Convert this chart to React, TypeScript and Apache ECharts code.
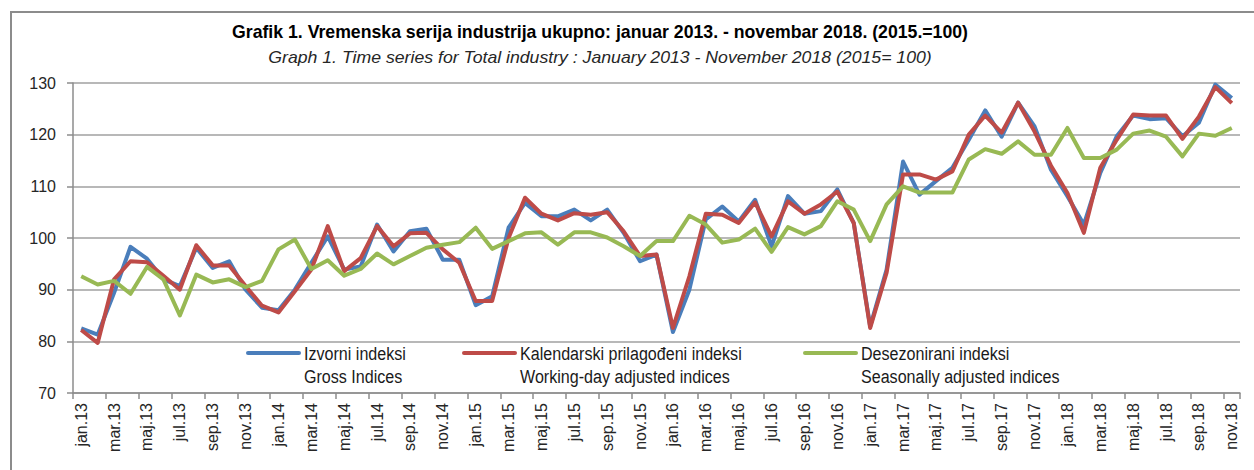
import React, { useEffect, useRef } from "react";
import * as echarts from "echarts";

const categories: string[] = [
  "jan.13","feb.13","mar.13","apr.13","maj.13","jun.13","jul.13","avg.13","sep.13","okt.13","nov.13","dec.13",
  "jan.14","feb.14","mar.14","apr.14","maj.14","jun.14","jul.14","avg.14","sep.14","okt.14","nov.14","dec.14",
  "jan.15","feb.15","mar.15","apr.15","maj.15","jun.15","jul.15","avg.15","sep.15","okt.15","nov.15","dec.15",
  "jan.16","feb.16","mar.16","apr.16","maj.16","jun.16","jul.16","avg.16","sep.16","okt.16","nov.16","dec.16",
  "jan.17","feb.17","mar.17","apr.17","maj.17","jun.17","jul.17","avg.17","sep.17","okt.17","nov.17","dec.17",
  "jan.18","feb.18","mar.18","apr.18","maj.18","jun.18","jul.18","avg.18","sep.18","okt.18","nov.18",
];

const grossIndices: number[] = [
  82.5, 81.3, 89.4, 98.3, 96.0, 92.0, 90.7, 98.1, 94.2, 95.5, 90.0, 86.5,
  86.0, 90.0, 95.2, 100.3, 93.9, 94.5, 102.6, 97.4, 101.3, 101.8, 95.8, 95.8,
  87.0, 88.7, 102.0, 106.8, 104.2, 104.2, 105.5, 103.4, 105.5, 101.0, 95.5, 96.8,
  81.8, 90.0, 103.6, 106.1, 103.2, 107.4, 98.4, 108.1, 104.7, 105.2, 109.4, 102.9,
  82.9, 93.9, 114.8, 108.4, 111.0, 113.6, 119.0, 124.7, 119.6, 126.2, 121.6, 113.2,
  108.1, 102.6, 112.6, 119.7, 123.7, 123.0, 123.2, 119.7, 122.3, 129.7, 127.1,
];

const workingDayAdjusted: number[] = [
  82.2, 79.7, 92.0, 95.5, 95.3, 92.7, 90.0, 98.6, 94.7, 94.7, 90.7, 86.9,
  85.6, 89.7, 93.9, 102.3, 93.6, 96.1, 102.3, 98.4, 100.9, 101.0, 97.8, 95.2,
  87.8, 87.8, 100.0, 107.8, 104.7, 103.4, 104.8, 104.5, 105.0, 101.3, 96.5, 96.8,
  82.6, 92.6, 104.7, 104.5, 102.9, 106.9, 100.3, 107.1, 104.7, 106.5, 109.0, 102.9,
  82.6, 93.3, 112.3, 112.3, 111.3, 112.9, 120.0, 123.7, 120.4, 126.2, 120.6, 114.0,
  108.7, 101.0, 113.6, 119.0, 123.9, 123.7, 123.7, 119.2, 123.5, 129.2, 126.1,
];

const seasonallyAdjusted: number[] = [
  92.6, 91.0, 91.7, 89.2, 94.4, 92.0, 85.0, 92.9, 91.4, 92.0, 90.5, 91.7,
  97.8, 99.7, 94.0, 95.7, 92.7, 94.0, 97.0, 94.9, 96.5, 98.1, 98.7, 99.2,
  102.0, 97.9, 99.4, 100.9, 101.1, 98.7, 101.1, 101.1, 100.1, 98.4, 96.5, 99.4,
  99.4, 104.3, 102.6, 99.1, 99.7, 101.8, 97.3, 102.1, 100.7, 102.3, 107.1, 105.5,
  99.4, 106.5, 110.0, 108.8, 108.8, 108.8, 115.2, 117.2, 116.3, 118.7, 116.1, 116.1,
  121.3, 115.5, 115.5, 117.1, 120.2, 120.8, 119.6, 115.8, 120.2, 119.8, 121.3,
];

const seriesNames = ["Izvorni indeksi", "Kalendarski prilagođeni indeksi", "Desezonirani indeksi"];
const seriesNamesEn = ["Gross Indices", "Working-day adjusted indices", "Seasonally adjusted indices"];
const seriesColors = ["#4a7ebb", "#be4b48", "#98b954"];

const titleText = "Grafik 1. Vremenska serija industrija ukupno: januar 2013. - novembar 2018. (2015.=100)";
const subtitleText = "Graph 1. Time series for Total industry : January 2013 - November 2018 (2015= 100)";

const NARROW = '"Liberation Sans Narrow", "Arial Narrow", "Liberation Sans", Arial, sans-serif';
const REGULAR = '"Liberation Sans", Arial, sans-serif';

function measure(font: string, text: string): number {
  const c = document.createElement("canvas");
  const ctx = c.getContext("2d");
  if (!ctx) return 1;
  ctx.font = font;
  return ctx.measureText(text).width || 1;
}

export default function App() {
  const ref = useRef<HTMLDivElement>(null);

  useEffect(() => {
    if (!ref.current) return;
    const chart = echarts.init(ref.current, null, { renderer: "svg" });

    const titleFont = `bold 18px ${NARROW}`;
    const subFont = `italic 17px ${NARROW}`;
    const legFont = `18px ${NARROW}`;
    const titleScale = 736 / measure(titleFont, titleText);
    const subScale = 664 / measure(subFont, subtitleText);
    const legScale = 102 / measure(legFont, seriesNames[0]);

    const legendIconX = [246, 462, 803];
    const legendY1 = 354;
    const legendY2 = 377;

    const legendGraphics: any[] = [];
    seriesNames.forEach((n, k) => {
      const x0 = legendIconX[k];
      legendGraphics.push({
        type: "line",
        shape: { x1: x0 + 2, y1: 353, x2: x0 + 53, y2: 353 },
        style: { stroke: seriesColors[k], lineWidth: 4, lineCap: "round" },
        silent: true,
      });
      legendGraphics.push({
        type: "text",
        x: x0 + 58,
        y: legendY1,
        scaleX: legScale,
        style: { text: n, font: legFont, fill: "#1a1a1a", textAlign: "left", textVerticalAlign: "middle" },
        silent: true,
      });
      legendGraphics.push({
        type: "text",
        x: x0 + 58,
        y: legendY2,
        scaleX: legScale,
        style: { text: seriesNamesEn[k], font: legFont, fill: "#1a1a1a", textAlign: "left", textVerticalAlign: "middle" },
        silent: true,
      });
    });

    const mkSeries = (name: string, data: number[], color: string) => ({
      name,
      type: "line",
      data,
      symbol: "none",
      lineStyle: { color, width: 4, join: "round" },
      itemStyle: { color },
      z: 3,
    });

    chart.setOption({
      animation: false,
      backgroundColor: "#ffffff",
      grid: { left: 73, right: 14, top: 83, bottom: 77, containLabel: false },
      xAxis: {
        type: "category",
        data: categories,
        boundaryGap: true,
        axisLine: { show: true, lineStyle: { color: "#8c8c8c", width: 1.5 } },
        axisTick: { show: true, interval: 1, length: 6, lineStyle: { color: "#8c8c8c", width: 1.5 } },
        axisLabel: {
          interval: 1,
          rotate: 90,
          margin: 10,
          fontSize: 16,
          fontFamily: REGULAR,
          color: "#262626",
        },
        splitLine: { show: false },
      },
      yAxis: {
        type: "value",
        min: 70,
        max: 130,
        interval: 10,
        axisLine: { show: true, lineStyle: { color: "#8c8c8c", width: 1.5 } },
        axisTick: { show: true, length: 6, lineStyle: { color: "#8c8c8c", width: 1.5 } },
        axisLabel: { margin: 17, fontSize: 16, fontFamily: REGULAR, color: "#262626" },
        splitLine: { show: true, lineStyle: { color: "#a0a0a0", width: 1.5 } },
      },
      series: [
        mkSeries(seriesNames[0], grossIndices, seriesColors[0]),
        mkSeries(seriesNames[1], workingDayAdjusted, seriesColors[1]),
        mkSeries(seriesNames[2], seasonallyAdjusted, seriesColors[2]),
      ],
      graphic: [
        {
          type: "rect",
          shape: { x: 11, y: 12, width: 1400, height: 600 },
          style: { fill: "none", stroke: "#8c8c8c", lineWidth: 2 },
          silent: true,
          z: -1,
        },
        {
          type: "text",
          x: 600,
          y: 32,
          scaleX: titleScale,
          style: { text: titleText, font: titleFont, fill: "#000000", textAlign: "center", textVerticalAlign: "middle" },
          silent: true,
        },
        {
          type: "text",
          x: 600,
          y: 57,
          scaleX: subScale,
          style: { text: subtitleText, font: subFont, fill: "#262626", textAlign: "center", textVerticalAlign: "middle" },
          silent: true,
        },
        ...legendGraphics,
      ],
    });

    return () => {
      chart.dispose();
    };
  }, []);

  return (
    <div
      ref={ref}
      style={{ position: "absolute", left: 0, top: 0, width: 1254, height: 470, background: "#fff" }}
    />
  );
}
